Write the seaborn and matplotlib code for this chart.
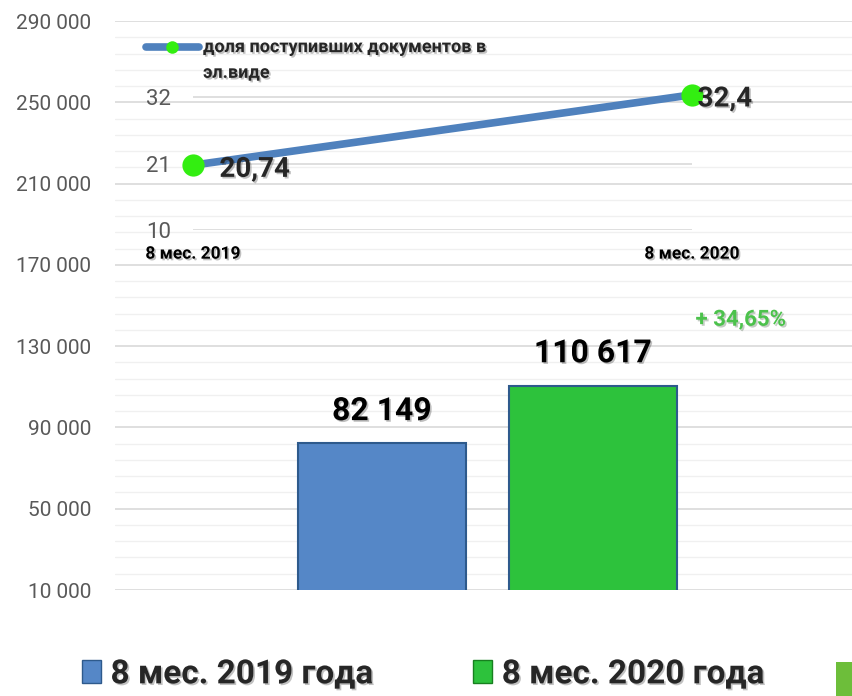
import numpy as np
import pandas as pd
import matplotlib
matplotlib.use("Agg")
import matplotlib.pyplot as plt
import matplotlib.patheffects as pe
from matplotlib.lines import Line2D
from matplotlib.patches import Patch
from matplotlib.ticker import FixedLocator, FuncFormatter
import seaborn as sns

# data
periods = ["8 мес. 2019 года", "8 мес. 2020 года"]
documents = [82149, 110617]
doc_labels = ["82 149", "110 617"]
growth_label = "+ 34,65%"
y_ticks = [10000, 50000, 90000, 130000, 170000, 210000, 250000, 290000]

share_periods = ["8 мес. 2019", "8 мес. 2020"]
share_values = [20.74, 32.4]
share_labels = ["20,74", "32,4"]
share_ticks = [10, 21, 32]
share_name = "доля поступивших документов в\nэл.виде"

sns.set_theme(style="white")
plt.rcParams['font.family'] = ['Roboto', 'DejaVu Sans']

blue = "#5587C7"
green = "#2DC23C"
line_blue = "#4F81BD"
lime = "#33EE11"
shadow = [pe.withSimplePatchShadow(offset=(1.2, -1.2), alpha=0.25)]

fig = plt.figure(figsize=(8.52, 6.96), dpi=100)
ax = fig.add_axes([115/852, 1-590/696, 1-115/852, (590-21)/696])

df = pd.DataFrame({"period": periods, "docs": documents})
sns.barplot(data=df, x="period", y="docs", hue="period", palette=[blue, green],
            saturation=1, width=0.8, ax=ax, legend=False,
            edgecolor=["#2E5A8C", "#17801F"], linewidth=1.5, zorder=3)
ax.set_ylim(10000, 290000)
ax.set_xlim(-1.265, 2.227)
ax.yaxis.set_major_locator(FixedLocator(y_ticks))
minor = [t + k * 8000 for t in y_ticks[:-1] for k in range(1, 5)]
ax.yaxis.set_minor_locator(FixedLocator(minor))
ax.yaxis.set_major_formatter(FuncFormatter(lambda v, p: f"{int(v):,}".replace(",", " ")))
ax.grid(axis="y", which="major", color="#D9D9D9", lw=1.2, zorder=0)
ax.grid(axis="y", which="minor", color="#F0F0F0", lw=1.0, zorder=0)
ax.set_axisbelow(True)
for s in ax.spines.values():
    s.set_visible(False)
ax.tick_params(axis="y", which="both", length=0, pad=17, labelsize=15, labelcolor="#595959")
ax.set_xticks([])
ax.set_xlabel("")
ax.set_ylabel("")

for i, (v, lab) in enumerate(zip(documents, doc_labels)):
    ax.text(i, v + 8500, lab, ha="center", va="bottom", fontsize=23, fontweight="bold",
            color="black", path_effects=shadow)

ax.text(1.70, 143000, growth_label, ha="center", va="center", fontsize=16,
        fontweight="bold", color="#4CC24C", path_effects=shadow)

# inset line chart
ax2 = fig.add_axes([193/852, 1-230/696, (692-193)/852, (230-61)/696])
ax2.patch.set_alpha(0)
sdf = pd.DataFrame({"period": share_periods, "share": share_values})
sns.lineplot(data=sdf, x="period", y="share", ax=ax2, color=line_blue, lw=5.5,
             marker="o", markersize=16, markerfacecolor=lime, markeredgewidth=0,
             clip_on=False, zorder=4)
ax2.set_xlim(0, 1)
ax2.set_ylim(10, 38)
ax2.set_yticks(share_ticks)
ax2.grid(axis="y", color="#D9D9D9", lw=1.2)
ax2.grid(axis="x", visible=False)
for s in ax2.spines.values():
    s.set_visible(False)
ax2.tick_params(axis="y", length=0, pad=16, labelsize=16, labelcolor="#595959")
ax2.tick_params(axis="x", length=0, pad=12, labelsize=12.5)
for t in ax2.get_xticklabels():
    t.set_fontweight("bold")
    t.set_color("black")
    t.set_path_effects(shadow)
ax2.set_xlabel("")
ax2.set_ylabel("")
for i, (v, lab) in enumerate(zip(share_values, share_labels)):
    ax2.annotate(lab, (i, v), xytext=(19 if i == 0 else 4, -3), textcoords="offset points",
                 ha="left", va="center", fontsize=20, fontweight="bold",
                 path_effects=shadow, zorder=5)

# legend of the inset, handle level with the first line of text
ly = 1 - 47/696
fig.add_artist(Line2D([146/852, 199/852], [ly, ly], transform=fig.transFigure,
                      color=line_blue, lw=5.5, solid_capstyle="round"))
fig.add_artist(Line2D([172/852], [ly], transform=fig.transFigure, marker="o",
                      markersize=9, markerfacecolor=lime, markeredgewidth=0, lw=0))
fig.text(203/852, 1 - 60/696, share_name, ha="left", va="center", fontsize=13,
         fontweight="bold", linespacing=1.55, path_effects=shadow)

# bottom legend
handles = [Patch(facecolor=blue, edgecolor="#2E5A8C"), Patch(facecolor=green, edgecolor="#17801F")]
leg = fig.legend(handles, periods, loc="lower center", bbox_to_anchor=(0.497, -0.035),
                 ncol=2, frameon=False, fontsize=24, handlelength=0.55, handleheight=0.7,
                 handletextpad=0.3, columnspacing=3.0)
for t in leg.get_texts():
    t.set_fontweight("bold")
    t.set_path_effects(shadow)

fig.patches.append(plt.Rectangle((836/852, 0), 16/852, 34/696, transform=fig.transFigure,
                                 facecolor="#6DBE3A", edgecolor="none"))

fig.savefig("out.png", dpi=100)
